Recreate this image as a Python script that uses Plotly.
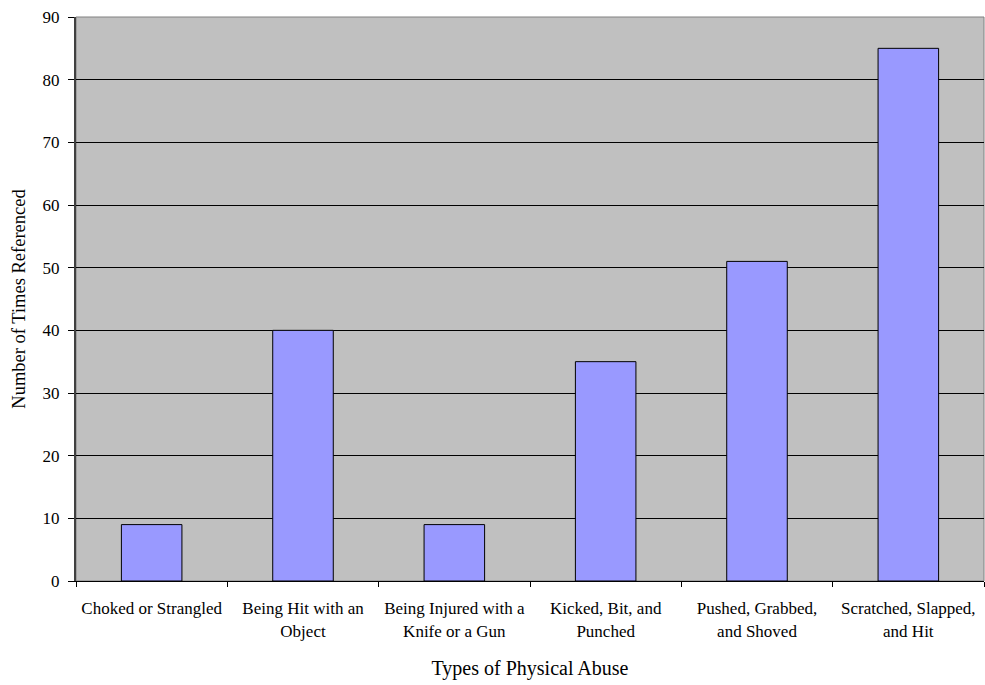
import plotly.graph_objects as go

categories = [
    "Choked or Strangled",
    "Being Hit with an<br>Object",
    "Being Injured with a<br>Knife or a Gun",
    "Kicked, Bit, and<br>Punched",
    "Pushed, Grabbed,<br>and Shoved",
    "Scratched, Slapped,<br>and Hit",
]
times_referenced = [9, 40, 9, 35, 51, 85]
y_ticks = [0, 10, 20, 30, 40, 50, 60, 70, 80, 90]

FONT = "Liberation Serif, Times New Roman, serif"

fig = go.Figure(
    go.Bar(
        x=categories,
        y=times_referenced,
        width=0.4,
        marker=dict(color="#9999FF", line=dict(color="#000000", width=1)),
        hoverinfo="x+y",
    )
)

fig.update_layout(
    width=985,
    height=685,
    margin=dict(l=76, r=1, t=17, b=104),
    paper_bgcolor="#FFFFFF",
    plot_bgcolor="#C0C0C0",
    showlegend=False,
    font=dict(family=FONT, size=17, color="#000000"),
)

fig.update_xaxes(
    title=dict(text="Types of Physical Abuse", font=dict(family=FONT, size=20), standoff=21),
    tickson="boundaries",
    ticks="outside",
    ticklen=5,
    tickcolor="#000000",
    ticklabelstandoff=12,
    showline=True,
    linecolor="#000000",
    linewidth=1,
    mirror=False,
    showgrid=False,
    tickfont=dict(family=FONT, size=17),
)

fig.update_yaxes(
    title=dict(text="Number of Times Referenced", font=dict(family=FONT, size=18.5), standoff=12),
    range=[0, 90],
    tickvals=y_ticks,
    ticks="outside",
    ticklen=6,
    tickcolor="#000000",
    ticklabelstandoff=5,
    showline=True,
    linecolor="#404040",
    linewidth=2,
    showgrid=True,
    gridcolor="#000000",
    gridwidth=1,
    zeroline=False,
    tickfont=dict(family=FONT, size=17),
)

# Grey frame around the top and right of the plot area
fig.add_shape(
    type="rect", xref="paper", yref="paper", x0=0, x1=1, y0=0, y1=1,
    line=dict(color="#808080", width=1), fillcolor="rgba(0,0,0,0)", layer="below",
)

fig.write_html("out.html")
